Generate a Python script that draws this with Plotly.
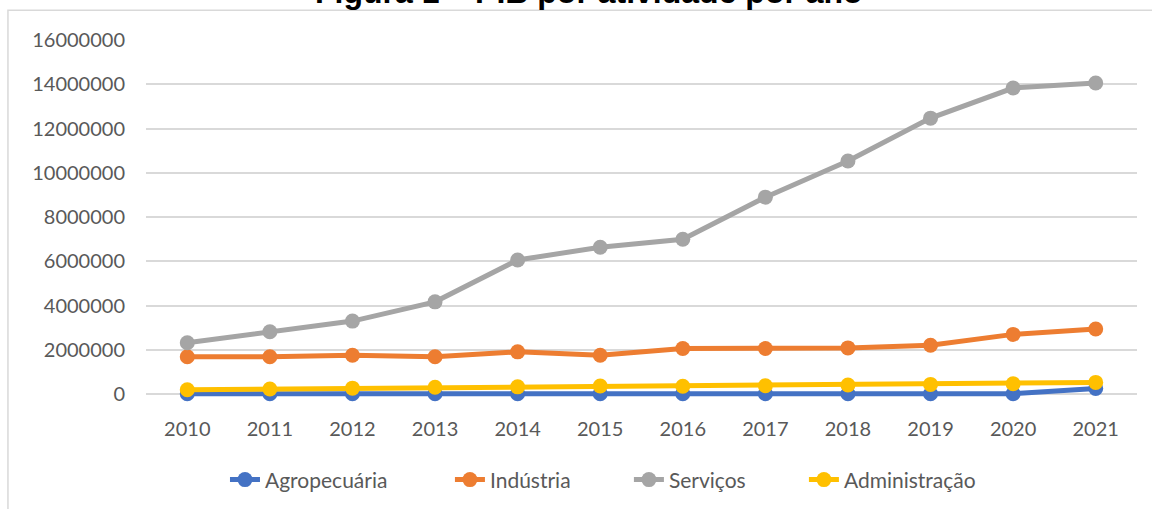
import plotly.graph_objects as go

years = ["2010", "2011", "2012", "2013", "2014", "2015", "2016", "2017", "2018", "2019", "2020", "2021"]
agropecuaria = [20000, 20000, 20000, 20000, 20000, 20000, 20000, 20000, 20000, 20000, 20000, 260000]
industria = [1690000, 1690000, 1760000, 1690000, 1910000, 1760000, 2060000, 2060000, 2090000, 2210000, 2700000, 2940000]
servicos = [2320000, 2820000, 3300000, 4170000, 6060000, 6640000, 7000000, 8900000, 10530000, 12470000, 13830000, 14060000]
administracao = [200000, 230000, 270000, 310000, 330000, 370000, 360000, 380000, 410000, 440000, 470000, 530000]

y_ticks = [0, 2000000, 4000000, 6000000, 8000000, 10000000, 12000000, 14000000, 16000000]
y_tick_text = ["0", "2000000", "4000000", "6000000", "8000000", "10000000", "12000000", "14000000", "16000000"]

series = [
    ("Agropecuária", agropecuaria, "#4472C4", "legend", 0.0797),
    ("Indústria", industria, "#ED7D31", "legend2", 0.3067),
    ("Serviços", servicos, "#A5A5A5", "legend3", 0.4873),
    ("Administração", administracao, "#FFC000", "legend4", 0.6639),
]

fig = go.Figure()
font_family = "Lato, 'Open Sans', sans-serif"
legend_layouts = {}
for name, vals, color, lg, lx in series:
    fig.add_trace(go.Scatter(
        x=years, y=vals, name=name, mode="lines+markers",
        line=dict(color=color, width=5),
        marker=dict(color=color, size=15),
        legend=lg, cliponaxis=False,
    ))
    legend_layouts[lg] = dict(
        x=lx, y=-0.212, xanchor="left", yanchor="middle",
        orientation="h", bgcolor="rgba(0,0,0,0)",
        font=dict(family=font_family, size=21, color="#595959"),
    )

fig.update_layout(
    width=1152, height=509,
    margin=dict(l=146, r=15, t=40, b=106, autoexpand=False),
    paper_bgcolor="white", plot_bgcolor="white",
    showlegend=True,
    font=dict(family=font_family, size=20, color="#595959"),
    xaxis=dict(
        type="category", range=[-0.5, 11.5], showgrid=False, showline=False,
        zeroline=False, ticks="", ticklabelstandoff=12,
        tickfont=dict(family=font_family, size=20, color="#595959"),
    ),
    yaxis=dict(
        range=[-400000, 16000000], tickvals=y_ticks, ticktext=y_tick_text,
        showgrid=True, gridcolor="#D9D9D9", gridwidth=1.5,
        zeroline=False, showline=False, ticks="", ticklabelstandoff=20,
        tickfont=dict(family=font_family, size=20, color="#595959"),
    ),
    shapes=[
        dict(type="rect", xref="paper", yref="paper",
             x0=-0.1393, x1=1.2, y0=-0.5, y1=1.0819,
             line=dict(color="#D9D9D9", width=1.5), fillcolor="rgba(0,0,0,0)", layer="below"),
    ],
    annotations=[
        dict(text="<b>Figura 1 – PIB por atividade por ano</b>", xref="paper", yref="paper",
             x=0.447, y=1.078, xanchor="center", yanchor="bottom", showarrow=False,
             font=dict(family="Liberation Sans, Arial, sans-serif", size=32, color="black")),
    ],
    **legend_layouts,
)

fig.write_html("out.html", config={"displayModeBar": False},
               post_script="document.body.style.margin='0';")
